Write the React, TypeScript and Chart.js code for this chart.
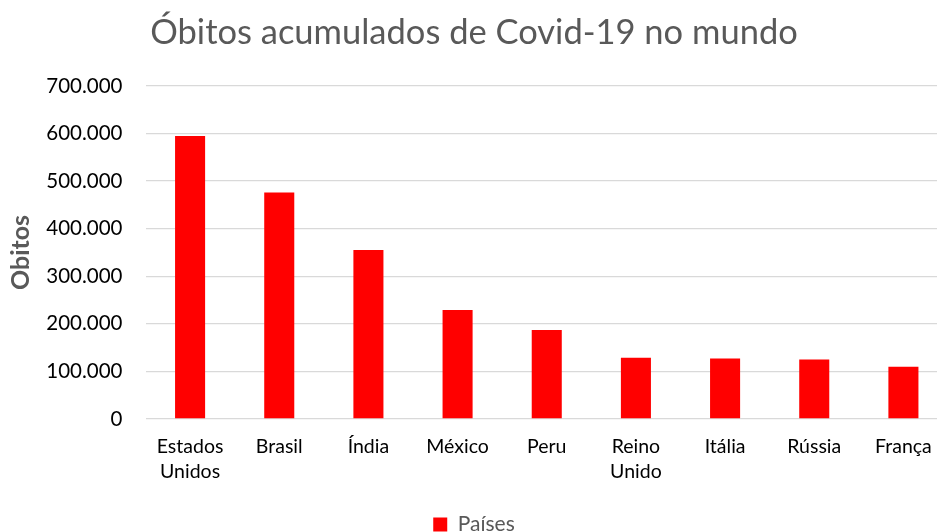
import React, { useEffect, useRef } from "react";
import { Chart, registerables } from "chart.js";

Chart.register(...registerables);

const categories: (string | string[])[] = [
  ["Estados", "Unidos"],
  "Brasil",
  "Índia",
  "México",
  "Peru",
  ["Reino", "Unido"],
  "Itália",
  "Rússia",
  "França",
];
const deaths = [595000, 476000, 355000, 229000, 187000, 129000, 127000, 125000, 110000];
const seriesName = "Países";
const chartTitle = "Óbitos acumulados de Covid-19 no mundo";
const yAxisTitle = "Obitos";
const yTicks = [0, 100000, 200000, 300000, 400000, 500000, 600000, 700000];

const FONT = "Lato, 'Open Sans', sans-serif";

function fmt(v: number): string {
  return Math.round(v)
    .toString()
    .replace(/\B(?=(\d{3})+(?!\d))/g, ".");
}

export default function App() {
  const ref = useRef<HTMLCanvasElement | null>(null);
  useEffect(() => {
    if (!ref.current) return;
    const chart = new Chart(ref.current, {
      type: "bar",
      data: {
        labels: categories,
        datasets: [
          {
            label: seriesName,
            data: deaths,
            backgroundColor: "#ff0000",
            borderWidth: 0,
            barPercentage: 0.337,
            categoryPercentage: 1,
          },
        ],
      },
      options: {
        animation: false,
        responsive: false,
        maintainAspectRatio: false,
        layout: { padding: 0 },
        plugins: {
          title: {
            display: true,
            text: chartTitle,
            color: "#595959",
            font: { family: FONT, size: 34.5, weight: "normal", lineHeight: 1.2 },
            padding: { top: 12.3, bottom: 32.3 },
          },
          legend: {
            display: true,
            position: "bottom",
            labels: {
              color: "#595959",
              font: { family: FONT, size: 21 },
              boxWidth: 14,
              boxHeight: 14,
              padding: 0,
            },
          },
          tooltip: { enabled: false },
        },
        scales: {
          x: {
            grid: { display: false, drawTicks: false },
            border: { display: false },
            ticks: {
              color: "#000000",
              font: { family: FONT, size: 19.5, lineHeight: 1.267 },
              padding: 15.6,
              maxRotation: 0,
              autoSkip: false,
            },
            afterFit: (scale: any) => {
              scale.height = 95;
            },
          },
          y: {
            min: 0,
            max: 700000,
            afterBuildTicks: (scale: any) => {
              scale.ticks = yTicks.map((v) => ({ value: v }));
            },
            grid: { color: "#d9d9d9", lineWidth: 1.3, drawTicks: false },
            border: { display: false },
            ticks: {
              color: "#000000",
              font: { family: FONT, size: 20.5 },
              padding: 23,
              callback: (v: any) => fmt(Number(v)),
            },
            title: {
              display: true,
              text: yAxisTitle,
              color: "#595959",
              font: { family: FONT, size: 25, weight: "bold", lineHeight: 1.2 },
              padding: { top: 5.5, bottom: 0 },
            },
            afterFit: (scale: any) => {
              scale.width = 145.5;
            },
          },
        },
      },
    });
    return () => chart.destroy();
  }, []);
  return (
    <div
      style={{
        position: "fixed",
        left: 0,
        top: 0,
        width: 937,
        height: 532,
        overflow: "hidden",
        background: "#ffffff",
      }}
    >
      <canvas ref={ref} width={948} height={545} style={{ width: 948, height: 545, display: "block" }} />
    </div>
  );
}
